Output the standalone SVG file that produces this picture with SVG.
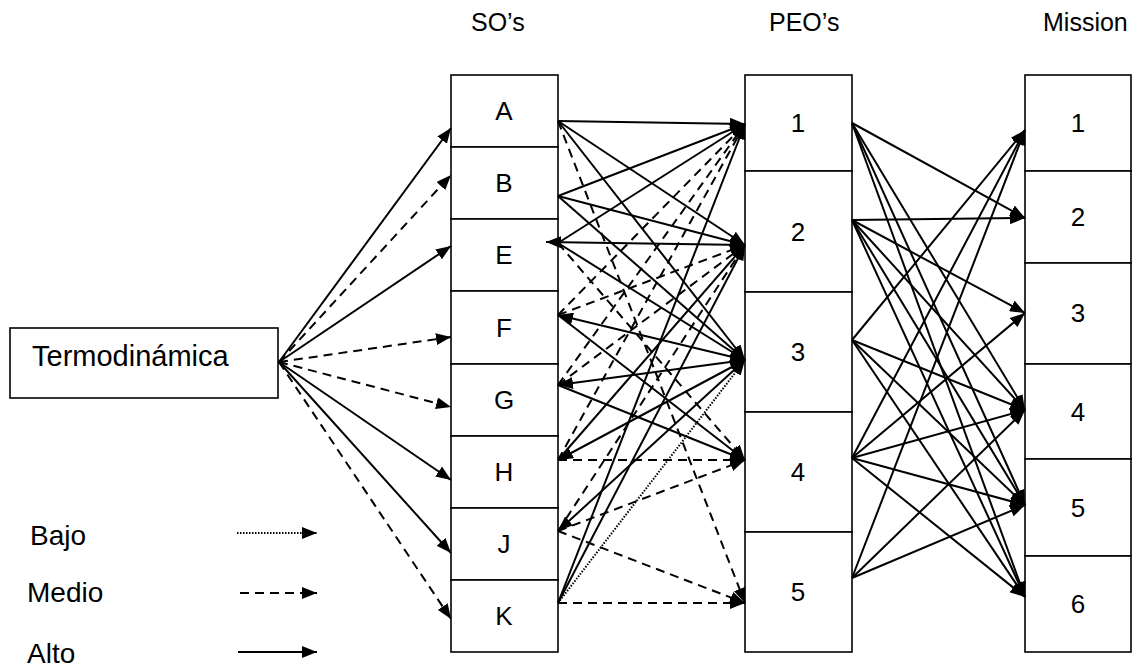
<svg xmlns="http://www.w3.org/2000/svg" width="1134" height="669" viewBox="0 0 1134 669">
<style>
text{font-family:"Liberation Sans",Arial,sans-serif;font-size:26px;fill:#000}
.t{text-anchor:middle}
.lg{font-size:28px}
.ti{font-size:25px}
.box{fill:#fff;stroke:#000;stroke-width:1.6}
.c line{stroke:#000;stroke-width:2;fill:none;marker-end:url(#ah)}
.c .d{stroke-dasharray:9 6}
.c .o{stroke-dasharray:1.5 1.5}
.c .b{marker-start:url(#ah)}
</style>
<defs>
<marker id="ah" markerUnits="userSpaceOnUse" viewBox="0 0 15 12" markerWidth="15" markerHeight="12" refX="15" refY="6" orient="auto-start-reverse">
<path d="M0,0 L15,6 L0,12 z" fill="#000"/>
</marker>
</defs>
<rect width="1134" height="669" fill="#fff"/>
<g id="titles">
<text class="ti" x="471" y="31">SO’s</text>
<text class="ti" x="769" y="31">PEO’s</text>
<text class="ti" x="1043" y="31">Mission</text>
</g>
<g id="termo"><rect class="box" x="10" y="328" width="268" height="70"/><text x="32" y="366" style="font-size:29px">Termodinámica</text></g>
<g id="so">
<g id="so-A"><rect class="box" x="451" y="75" width="107" height="72"/><text class="t" x="504" y="120">A</text></g>
<g id="so-B"><rect class="box" x="451" y="147" width="107" height="72"/><text class="t" x="504" y="192">B</text></g>
<g id="so-E"><rect class="box" x="451" y="219" width="107" height="72"/><text class="t" x="504" y="264">E</text></g>
<g id="so-F"><rect class="box" x="451" y="291" width="107" height="73"/><text class="t" x="504" y="337">F</text></g>
<g id="so-G"><rect class="box" x="451" y="364" width="107" height="72"/><text class="t" x="504" y="409">G</text></g>
<g id="so-H"><rect class="box" x="451" y="436" width="107" height="72"/><text class="t" x="504" y="481">H</text></g>
<g id="so-J"><rect class="box" x="451" y="508" width="107" height="72"/><text class="t" x="504" y="553">J</text></g>
<g id="so-K"><rect class="box" x="451" y="580" width="107" height="72"/><text class="t" x="504" y="625">K</text></g>
</g>
<g id="peo">
<g id="peo-1"><rect class="box" x="745" y="75" width="107" height="96"/><text class="t" x="798" y="132">1</text></g>
<g id="peo-2"><rect class="box" x="745" y="171" width="107" height="121"/><text class="t" x="798" y="241">2</text></g>
<g id="peo-3"><rect class="box" x="745" y="292" width="107" height="120"/><text class="t" x="798" y="361">3</text></g>
<g id="peo-4"><rect class="box" x="745" y="412" width="107" height="120"/><text class="t" x="798" y="481">4</text></g>
<g id="peo-5"><rect class="box" x="745" y="532" width="107" height="120"/><text class="t" x="798" y="601">5</text></g>
</g>
<g id="mission">
<g id="m-1"><rect class="box" x="1025" y="75" width="106" height="96"/><text class="t" x="1078" y="132">1</text></g>
<g id="m-2"><rect class="box" x="1025" y="171" width="106" height="92"/><text class="t" x="1078" y="226">2</text></g>
<g id="m-3"><rect class="box" x="1025" y="263" width="106" height="101"/><text class="t" x="1078" y="322">3</text></g>
<g id="m-4"><rect class="box" x="1025" y="364" width="106" height="95"/><text class="t" x="1078" y="421">4</text></g>
<g id="m-5"><rect class="box" x="1025" y="459" width="106" height="97"/><text class="t" x="1078" y="517">5</text></g>
<g id="m-6"><rect class="box" x="1025" y="556" width="106" height="96"/><text class="t" x="1078" y="613">6</text></g>
</g>
<g id="connectors" class="c">
<line x1="279" y1="362" x2="451" y2="128"/>
<line class="d" x1="279" y1="362" x2="451" y2="175"/>
<line x1="279" y1="362" x2="451" y2="246"/>
<line class="d" x1="279" y1="362" x2="451" y2="337"/>
<line class="d" x1="279" y1="362" x2="451" y2="407"/>
<line x1="279" y1="362" x2="451" y2="480"/>
<line x1="279" y1="362" x2="451" y2="553"/>
<line class="d" x1="279" y1="362" x2="451" y2="619"/>
<line x1="558" y1="121" x2="745" y2="124"/>
<line x1="558" y1="121" x2="745" y2="245"/>
<line x1="558" y1="121" x2="745" y2="360"/>
<line x1="558" y1="196" x2="745" y2="124"/>
<line x1="558" y1="196" x2="745" y2="245"/>
<line x1="558" y1="196" x2="745" y2="360"/>
<line x1="558" y1="243" x2="745" y2="124"/>
<line class="b" x1="546" y1="242" x2="745" y2="245"/>
<line x1="558" y1="243" x2="745" y2="360"/>
<line x1="558" y1="315" x2="745" y2="460"/>
<line x1="558" y1="385" x2="745" y2="460"/>
<line x1="558" y1="460" x2="745" y2="245"/>
<line x1="558" y1="603" x2="745" y2="124"/>
<line x1="558" y1="603" x2="745" y2="245"/>
<line class="b" x1="745" y1="360" x2="558" y2="315"/>
<line class="b" x1="745" y1="360" x2="558" y2="385"/>
<line class="b" x1="745" y1="360" x2="558" y2="460"/>
<line class="b" x1="745" y1="360" x2="558" y2="531"/>
<line class="d" x1="558" y1="121" x2="745" y2="603"/>
<line class="d" x1="558" y1="243" x2="745" y2="460"/>
<line class="d" x1="558" y1="315" x2="745" y2="124"/>
<line class="d" x1="558" y1="315" x2="745" y2="245"/>
<line class="d" x1="558" y1="385" x2="745" y2="124"/>
<line class="d" x1="558" y1="385" x2="745" y2="245"/>
<line class="d" x1="558" y1="460" x2="745" y2="124"/>
<line class="d" x1="558" y1="460" x2="745" y2="460"/>
<line class="d" x1="558" y1="531" x2="745" y2="245"/>
<line class="d" x1="558" y1="531" x2="745" y2="460"/>
<line class="d" x1="558" y1="531" x2="745" y2="603"/>
<line class="d" x1="558" y1="603" x2="745" y2="603"/>
<line class="o" x1="558" y1="603" x2="745" y2="360"/>
<line x1="852" y1="123" x2="1025" y2="218"/>
<line x1="852" y1="123" x2="1025" y2="410"/>
<line x1="852" y1="123" x2="1025" y2="505"/>
<line x1="852" y1="123" x2="1025" y2="597"/>
<line x1="852" y1="220" x2="1025" y2="218"/>
<line x1="852" y1="220" x2="1025" y2="313"/>
<line x1="852" y1="220" x2="1025" y2="410"/>
<line x1="852" y1="220" x2="1025" y2="505"/>
<line x1="852" y1="220" x2="1025" y2="597"/>
<line x1="852" y1="340" x2="1025" y2="130"/>
<line x1="852" y1="340" x2="1025" y2="410"/>
<line x1="852" y1="340" x2="1025" y2="505"/>
<line x1="852" y1="340" x2="1025" y2="597"/>
<line x1="852" y1="458" x2="1025" y2="130"/>
<line x1="852" y1="458" x2="1025" y2="313"/>
<line x1="852" y1="458" x2="1025" y2="410"/>
<line x1="852" y1="458" x2="1025" y2="505"/>
<line x1="852" y1="458" x2="1025" y2="597"/>
<line x1="852" y1="578" x2="1025" y2="130"/>
<line x1="852" y1="578" x2="1025" y2="410"/>
<line x1="852" y1="578" x2="1025" y2="505"/>
</g>
<g id="legend">
<text class="lg" x="30" y="545">Bajo</text>
<text class="lg" x="27" y="602">Medio</text>
<text class="lg" x="27" y="663">Alto</text>
<g class="c">
<line class="o" x1="237" y1="533" x2="317" y2="533"/>
<line class="d" x1="240" y1="593" x2="317" y2="593"/>
<line x1="238" y1="652" x2="317" y2="652"/>
</g>
</g>
</svg>
